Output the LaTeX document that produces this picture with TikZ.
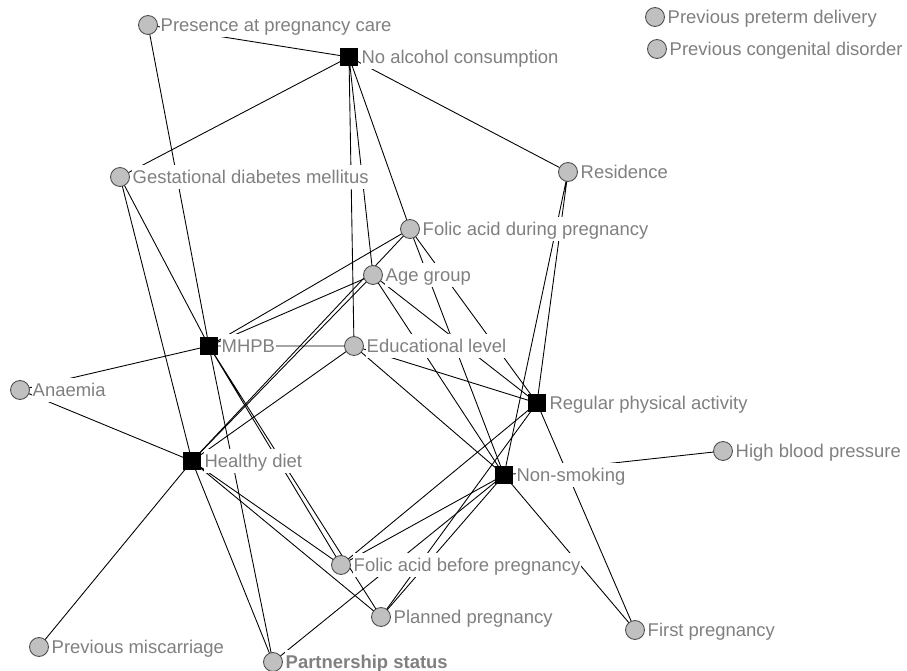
\documentclass[tikz,border=0pt]{standalone}
\usepackage{fontspec}
\setmainfont{Liberation Sans}
\usetikzlibrary{positioning,backgrounds}
\definecolor{nodegray}{RGB}{192,192,192}
\definecolor{labelgray}{RGB}{128,128,128}
\tikzset{
  varnode/.style={circle, draw=black!70, fill=nodegray, minimum size=10.8pt, inner sep=0pt, line width=0.5pt},
  keynode/.style={rectangle, fill=black, minimum size=10.8pt, inner sep=0pt},
  lbl/.style={fill=white, text=labelgray, inner sep=0.6pt, text height=9.6pt, text depth=2.4pt, font=\fontsize{10.5pt}{12pt}\selectfont},
  tie/.style={line width=0.5pt, black}
}
\begin{document}
\begin{tikzpicture}[x=0.02cm, y=-0.02cm]
    % Khung hình
    \useasboundingbox (0,0) rectangle (907,671);

    % 1. Các nút: vuông = hành vi, tròn = yếu tố
    \node[varnode] (ppc) at (148,25) {};
    \node[keynode] (nac) at (349,57) {};
    \node[varnode] (ppd) at (655,17) {};
    \node[varnode] (pcd) at (657,49) {};
    \node[varnode] (gdm) at (120,177) {};
    \node[varnode] (res) at (568,172) {};
    \node[varnode] (fadp) at (410,229) {};
    \node[varnode] (ag) at (373,275) {};
    \node[keynode] (mhpb) at (209,346) {};
    \node[varnode] (el) at (354,346) {};
    \node[varnode] (ana) at (20,390) {};
    \node[keynode] (rpa) at (537,403) {};
    \node[varnode] (hbp) at (723,451) {};
    \node[keynode] (hd) at (192,461) {};
    \node[keynode] (ns) at (504,475) {};
    \node[varnode] (fabp) at (341,565) {};
    \node[varnode] (pp) at (381,617) {};
    \node[varnode] (fp) at (635,630) {};
    \node[varnode] (pm) at (39,647) {};
    \node[varnode] (ps) at (273,662) {};

    % 2. Nhãn (nền trắng che các cạnh)
    \node[lbl, right=0.8pt of ppc] (ppc-l) {Presence at pregnancy care};
    \node[lbl, right=0.8pt of nac] (nac-l) {No alcohol consumption};
    \node[lbl, right=0.8pt of ppd] (ppd-l) {Previous preterm delivery};
    \node[lbl, right=0.8pt of pcd] (pcd-l) {Previous congenital disorder};
    \node[lbl, right=0.8pt of gdm] (gdm-l) {Gestational diabetes mellitus};
    \node[lbl, right=0.8pt of res] (res-l) {Residence};
    \node[lbl, right=0.8pt of fadp] (fadp-l) {Folic acid during pregnancy};
    \node[lbl, right=0.8pt of ag] (ag-l) {Age group};
    \node[lbl, right=0.8pt of mhpb] (mhpb-l) {MHPB};
    \node[lbl, right=0.8pt of el] (el-l) {Educational level};
    \node[lbl, right=0.8pt of ana] (ana-l) {Anaemia};
    \node[lbl, right=0.8pt of rpa] (rpa-l) {Regular physical activity};
    \node[lbl, right=0.8pt of hbp] (hbp-l) {High blood pressure};
    \node[lbl, right=0.8pt of hd] (hd-l) {Healthy diet};
    \node[lbl, right=0.8pt of ns] (ns-l) {Non-smoking};
    \node[lbl, right=0.8pt of fabp] (fabp-l) {Folic acid before pregnancy};
    \node[lbl, right=0.8pt of pp] (pp-l) {Planned pregnancy};
    \node[lbl, right=0.8pt of fp] (fp-l) {First pregnancy};
    \node[lbl, right=0.8pt of pm] (pm-l) {Previous miscarriage};
    \node[lbl, right=0.8pt of ps, font=\fontsize{10.5pt}{12pt}\selectfont\bfseries] (ps-l) {Partnership status};

    % 3. Các cạnh (nằm dưới nút và nhãn)
    \begin{scope}[on background layer]
    \draw[tie] (ppc.center) -- (nac.center) (ppc.center) -- (mhpb.center);
    \draw[tie] (nac.center) -- (gdm.center) (nac.center) -- (res.center) (nac.center) -- (el.center) (nac.center) -- (ag.center) (nac.center) -- (fadp.center);
    \draw[tie] (gdm.center) -- (mhpb.center) (gdm.center) -- (hd.center);
    \draw[tie] (res.center) -- (rpa.center) (res.center) -- (ns.center);
    \draw[tie] (fadp.center) -- (mhpb.center) (fadp.center) -- (hd.center) (fadp.center) -- (ns.center) (fadp.center) -- (rpa.center);
    \draw[tie] (ag.center) -- (mhpb.center) (ag.center) -- (hd.center) (ag.center) -- (ns.center) (ag.center) -- (rpa.center);
    \draw[tie] (mhpb.center) -- (el.center) (mhpb.center) -- (ana.center) (mhpb.center) -- (fabp.center) (mhpb.center) -- (pp.center) (mhpb.center) -- (ps.center);
    \draw[tie] (el.center) -- (hd.center) (el.center) -- (rpa.center) (el.center) -- (ns.center);
    \draw[tie] (hd.center) -- (ana.center) (hd.center) -- (pm.center) (hd.center) -- (ps.center) (hd.center) -- (fabp.center) (hd.center) -- (pp.center);
    \draw[tie] (rpa.center) -- (fabp.center) (rpa.center) -- (pp.center) (rpa.center) -- (fp.center);
    \draw[tie] (ns.center) -- (hbp.center) (ns.center) -- (fp.center) (ns.center) -- (fabp.center) (ns.center) -- (pp.center) (ns.center) -- (ps.center);
    \end{scope}

\end{tikzpicture}
\end{document}
